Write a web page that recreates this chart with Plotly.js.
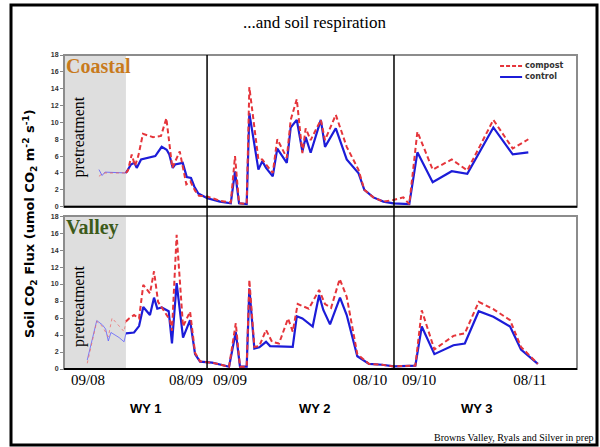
<!DOCTYPE html>
<html><head><meta charset="utf-8">
<script src="https://cdn.plot.ly/plotly-3.0.1.min.js"></script>
<style>html,body{margin:0;padding:0;background:#fff}#chart{width:600px;height:447px}</style>
</head><body><div id="chart"></div><script>
// time axis: months since start of record
const coastalPreT = [2.24, 2.44, 2.63, 3.97];
const coastalPreControl = [4.4, 3.7, 4.1, 4.0];
const coastalPreCompost = [3.6, 3.9, 4.0, 4.0];

const coastalControlT = [3.97,4.08,4.29,4.51,4.66,4.94,5.85,6.26,6.58,6.75,6.97,7.12,7.61,7.87,8.14,8.35,8.61,9.19,10.0,10.69,10.96,11.22,11.71,11.88,12.46,12.71,12.95,13.38,13.67,14.28,14.53,14.92,15.28,15.49,15.81,16.46,16.73,17.42,18.12,18.87,19.25,19.83,20.47,21.11,22.13,22.65,23.63,24.85,25.85,27.52,28.76,29.76];
const coastalControl = [4.0,4.3,5.0,5.2,4.6,5.6,6.0,7.1,6.75,6.2,4.6,5.0,5.2,3.5,3.4,2.4,1.55,1.0,0.6,0.4,4.2,0.4,0.3,11.1,4.4,5.4,4.6,3.6,6.9,5.2,9.4,10.3,6.55,8.25,6.4,10.3,7.1,9.3,5.6,4.0,2.0,1.1,0.6,0.4,0.3,6.45,2.9,4.2,3.9,9.4,6.2,6.45];

const coastalCompostT = [3.97,4.10,4.34,4.55,4.76,5.06,5.71,6.22,6.56,6.94,7.42,7.84,8.10,8.40,8.65,9.19,10.0,10.69,10.96,11.22,11.71,11.88,12.46,12.71,12.95,13.38,13.67,14.28,14.53,14.92,15.28,15.49,15.81,16.46,16.73,17.42,18.12,18.87,19.25,19.83,20.47,21.11,21.75,22.13,22.65,23.63,24.85,25.85,27.52,28.76,29.76];
const coastalCompost = [4.0,4.3,6.2,4.85,6.0,8.65,8.25,8.4,10.5,4.6,6.55,2.65,3.0,1.9,1.3,1.2,0.7,0.5,6.0,0.4,0.3,14.2,5.6,5.6,5.0,4.0,8.0,5.8,10.3,12.75,6.35,9.3,7.9,10.3,7.9,10.9,7.1,4.4,2.0,1.1,0.6,0.8,1.1,0.3,8.9,4.4,5.6,4.3,10.3,6.9,8.0];

const valleyPreControlT = [1.49,2.10,2.46,2.67,2.84,3.01,3.53,3.85,3.97];
const valleyPreControl = [1.06,5.7,5.2,4.7,3.3,4.3,3.7,3.2,4.2];
const valleyPreCompostT = [1.49,2.10,2.46,2.84,3.08,3.53,3.85,3.97];
const valleyPreCompost = [0.67,5.6,5.0,3.8,6.0,5.0,4.4,5.6];

const valleyControlT = [3.97,4.49,4.81,5.08,5.51,5.77,5.98,6.26,6.71,6.92,7.22,7.63,8.08,8.40,8.72,9.19,9.49,10.13,10.58,11.01,11.28,11.71,11.88,12.20,12.52,12.95,13.21,14.66,14.92,15.28,15.94,16.35,16.62,17.05,17.69,18.12,18.80,19.55,20.38,21.15,22.52,22.93,23.74,24.96,25.69,26.58,27.52,28.59,29.29,30.37];
const valleyControl = [4.2,4.3,5.05,7.3,6.35,8.4,7.1,7.25,6.8,3.0,10.1,3.7,5.75,1.75,0.86,0.75,0.75,0.47,0.27,4.35,0.27,0.27,9.5,2.4,2.55,3.2,2.7,2.6,6.2,5.95,5.0,8.7,6.95,5.25,8.4,6.35,1.5,0.6,0.5,0.3,0.4,5.0,1.75,2.8,3.0,6.8,6.15,5.0,2.3,0.6];

const valleyCompostT = [3.97,4.17,4.49,4.81,5.08,5.51,5.77,6.03,6.35,6.79,6.92,7.22,7.63,8.08,8.40,8.72,9.19,9.49,10.13,10.58,11.01,11.28,11.71,11.88,12.20,12.52,12.95,13.33,13.78,14.36,14.66,14.98,15.69,16.35,16.73,17.12,17.67,18.12,18.80,19.55,20.38,21.15,22.52,22.93,23.74,24.96,25.69,26.58,27.52,28.59,29.29,30.37];
const valleyCompost = [5.6,5.95,6.35,5.95,9.9,8.9,11.5,7.9,7.0,5.75,4.5,15.8,5.0,6.75,1.9,0.9,0.8,0.75,0.47,0.27,5.4,0.27,0.27,10.5,2.6,2.7,4.6,3.2,3.0,5.95,4.4,7.65,7.1,9.3,7.65,7.2,10.6,8.5,1.75,0.6,0.5,0.3,0.4,6.9,2.3,3.9,4.2,7.9,7.05,5.75,2.6,0.6];

const tickVals = [1.54, 7.82, 10.64, 19.62, 22.76, 29.87];
const tickText = ['09/08', '08/09', '09/09', '08/10', '09/10', '08/11'];
const wyBoundaries = [9.17, 21.15];
const wyLabels = ['WY 1', 'WY 2', 'WY 3'];
const wyLabelPos = [5.26, 16.09, 26.47];
const seriesNames = ['compost', 'control'];
const pretreatEnd = 3.97;
const xMax = 32.88;

const RED = '#e5353b', BLUE = '#1c1cd8';
const dashC = '5px,3px';
function tr(x, y, color, dash, w, xa, ya, op) {
  return {x: x, y: y, type: 'scatter', mode: 'lines', xaxis: xa, yaxis: ya, showlegend: false,
    opacity: op || 1, line: {color: color, width: w, dash: dash}, hoverinfo: 'skip'};
}
const data = [
  tr(coastalPreT, coastalPreControl, '#4d4dff', 'solid', 1, 'x', 'y', 0.75),
  tr(coastalPreT, coastalPreCompost, '#ee5a5a', 'dot', 1, 'x', 'y', 0.75),
  tr(coastalControlT, coastalControl, BLUE, 'solid', 2.2, 'x', 'y'),
  tr(coastalCompostT, coastalCompost, RED, dashC, 2, 'x', 'y'),
  tr(valleyPreControlT, valleyPreControl, '#5a5aff', 'solid', 1, 'x2', 'y2', 0.75),
  tr(valleyPreCompostT, valleyPreCompost, '#ee6a6a', 'dot', 1, 'x2', 'y2', 0.75),
  tr(valleyControlT, valleyControl, BLUE, 'solid', 2.2, 'x2', 'y2'),
  tr(valleyCompostT, valleyCompost, RED, dashC, 2, 'x2', 'y2')
];

const yTickVals = [0,2,4,6,8,10,12,14,16,18];
function yax(dom) {
  return {domain: dom, range: [0, 18], tickvals: yTickVals, showgrid: false, zeroline: false,
    ticks: 'outside', ticklen: 3, tickcolor: '#888', showline: false,
    tickfont: {family: 'Liberation Sans', size: 7, color: '#333', weight: 'bold'}};
}
function xax(anchor, labels) {
  const a = {anchor: anchor, range: [0, xMax], showgrid: false, zeroline: false, showline: false, ticks: ''};
  if (labels) { a.tickvals = tickVals; a.ticktext = tickText;
    a.tickfont = {family: 'Liberation Serif', size: 15, color: '#000'}; }
  else a.showticklabels = false;
  return a;
}

const shapes = [];
[['x','y'],['x2','y2']].forEach(([xa, ya]) => {
  shapes.push({type: 'rect', xref: xa, yref: ya + ' domain', x0: 0, x1: pretreatEnd, y0: 0, y1: 1,
    fillcolor: '#dedede', line: {width: 0}, layer: 'below'});
  shapes.push({type: 'rect', xref: xa + ' domain', yref: ya + ' domain', x0: 0, x1: 1, y0: 0, y1: 1,
    line: {color: '#8c8c8c', width: 2}});
  shapes.push({type: 'line', xref: xa + ' domain', yref: ya + ' domain', x0: 0, x1: 1, y0: 0, y1: 0,
    line: {color: '#000', width: 2}});
});
wyBoundaries.forEach(b => shapes.push({type: 'line', xref: 'x', yref: 'paper', x0: b, x1: b, y0: 0, y1: 1,
  line: {color: '#000', width: 1.5}}));
shapes.push({type: 'rect', xref: 'paper', yref: 'paper', x0: -0.1033, x1: 1.039, y0: -0.242, y1: 1.159,
  line: {color: '#000', width: 3}});
// legend samples
shapes.push({type: 'line', xref: 'paper', yref: 'paper', x0: 0.850, x1: 0.893, y0: 0.965, y1: 0.965,
  line: {color: RED, width: 2, dash: '4px,2px'}});
shapes.push({type: 'line', xref: 'paper', yref: 'paper', x0: 0.850, x1: 0.893, y0: 0.930, y1: 0.930,
  line: {color: BLUE, width: 2}});

const annotations = [
  {text: '...and soil respiration', xref: 'paper', yref: 'paper', x: 0.489, y: 1.105, yanchor: 'middle',
   showarrow: false, font: {family: 'Liberation Serif', size: 17, color: '#000'}},
  {text: '<b>Soil CO<sub>2</sub> Flux (umol CO<sub>2</sub> m<sup>-2</sup> s<sup>-1</sup>)</b>', textangle: -90,
   xref: 'paper', yref: 'paper', x: -0.0663, xanchor: 'center', y: 0.465, yanchor: 'middle', showarrow: false,
   font: {family: 'DejaVu Sans', size: 13, color: '#000'}},
  {text: '<b>Coastal</b>', xref: 'paper', yref: 'paper', x: 0.0, xanchor: 'left', y: 1.006, yanchor: 'top',
   showarrow: false, font: {family: 'Liberation Serif', size: 20, color: '#c87a1c'}},
  {text: '<b>Valley</b>', xref: 'paper', yref: 'paper', x: 0.0, xanchor: 'left', y: 0.493, yanchor: 'top',
   showarrow: false, font: {family: 'Liberation Serif', size: 20, color: '#3c5a1a'}},
  {text: 'pretreatment', textangle: -90, xref: 'x', yref: 'y', x: 0.95, y: 8.3, showarrow: false,
   font: {family: 'Liberation Serif', size: 16, color: '#000'}},
  {text: 'pretreatment', textangle: -90, xref: 'x2', yref: 'y2', x: 0.95, y: 7.4, showarrow: false,
   font: {family: 'Liberation Serif', size: 16, color: '#000'}},
  {text: 'Browns Valley, Ryals and Silver in prep', xref: 'paper', yref: 'paper', x: 1.037, xanchor: 'right',
   y: -0.2166, yanchor: 'middle', showarrow: false, font: {family: 'Liberation Serif', size: 10, color: '#000'}},
  {text: '<b>' + seriesNames[0] + '</b>', xref: 'paper', yref: 'paper', x: 0.895, xanchor: 'left', y: 0.965,
   yanchor: 'middle', showarrow: false, font: {family: 'DejaVu Sans', size: 8, color: '#333'}},
  {text: '<b>' + seriesNames[1] + '</b>', xref: 'paper', yref: 'paper', x: 0.895, xanchor: 'left', y: 0.930,
   yanchor: 'middle', showarrow: false, font: {family: 'DejaVu Sans', size: 8, color: '#333'}}
];
wyLabels.forEach((t, i) => annotations.push({text: '<b>' + t + '</b>', xref: 'x2', yref: 'paper',
  x: wyLabelPos[i], y: -0.127, yanchor: 'middle', showarrow: false,
  font: {family: 'Liberation Sans', size: 13, color: '#000'}}));

const layout = {
  width: 600, height: 447, autosize: false,
  margin: {l: 64, r: 23, t: 55, b: 78, pad: 0},
  paper_bgcolor: '#fff', plot_bgcolor: '#fff',
  xaxis: xax('y', false), yaxis: yax([0.517, 1]),
  xaxis2: xax('y2', true), yaxis2: yax([0, 0.487]),
  showlegend: false,
  shapes: shapes, annotations: annotations
};
Plotly.newPlot('chart', data, layout, {displayModeBar: false, staticPlot: true});
</script></body></html>
